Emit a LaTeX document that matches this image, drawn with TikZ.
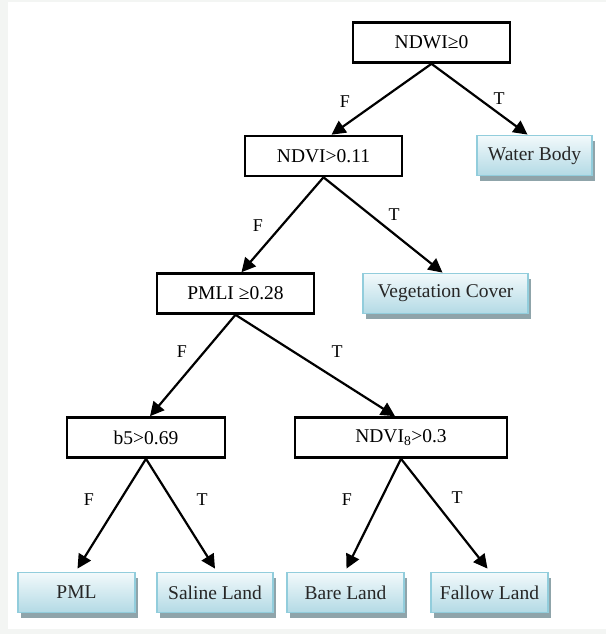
\documentclass[tikz,border=0pt]{standalone}
\usepackage{fontspec}
\setmainfont{Liberation Serif}
\usetikzlibrary{arrows.meta,calc,shadows}
\definecolor{bggray}{HTML}{F3F5F3}
\definecolor{leafborder}{HTML}{92CDDC}
\definecolor{leaftop}{HTML}{F2F9FB}
\definecolor{leafbot}{HTML}{B3DAE5}
\definecolor{leafshadow}{HTML}{8FA4AA}
\begin{document}
\begin{tikzpicture}[x=1pt,y=-1pt,
  cond/.style={draw=black, line width=2.6pt, fill=white, minimum height=40pt, inner sep=0pt, font=\fontsize{19.5}{22}\selectfont},
  leaf/.style={draw=leafborder, line width=1.8pt, top color=leaftop, bottom color=leafbot, minimum height=40pt, inner sep=0pt, font=\fontsize{19.5}{22}\selectfont, text=black!85, drop shadow={shadow xshift=3pt, shadow yshift=-5pt, fill=leafshadow, opacity=1}},
  edge/.style={line width=2.2pt, -{Triangle[length=14pt,width=14pt]}},
  lab/.style={font=\fontsize{18}{20}\selectfont, inner sep=0pt}
]
\fill[bggray] (0,0) rectangle (606,634);
\fill[white] (8,2) rectangle (606,629);
\useasboundingbox (0,0) rectangle (606,634);

\node[cond, minimum width=157pt] (ndwi) at (431.5,42.5) {NDWI≥0};
\node[cond, minimum width=157pt] (ndvi) at (323.5,156) {NDVI>0.11};
\node[leaf, minimum width=115pt] (water) at (534.5,155.5) {Water Body};
\node[cond, minimum width=157pt] (pmli) at (235.5,293.5) {PMLI ≥0.28};
\node[leaf, minimum width=165pt] (veg) at (445.5,293.5) {Vegetation Cover};
\node[cond, minimum width=158pt] (b5) at (146,437.5) {b5>0.69};
\node[cond, minimum width=212pt] (ndvie) at (401,437.5) {NDVI\textsubscript{8}>0.3};
\node[leaf, minimum width=117pt] (pml) at (76.5,592.5) {PML};
\node[leaf, minimum width=116pt] (saline) at (215,592.5) {Saline Land};
\node[leaf, minimum width=117pt] (bare) at (345.5,592.5) {Bare Land};
\node[leaf, minimum width=117pt] (fallow) at (489.5,592.5) {Fallow Land};

\draw[edge] (ndwi.south) -- ($(ndvi.north)+(8,0)$);
\draw[edge] (ndwi.south) -- ($(water.north)+(-7,0)$);
\draw[edge] (ndvi.south) -- ($(pmli.north)+(6,0)$);
\draw[edge] (ndvi.south) -- ($(veg.north)+(-3,0)$);
\draw[edge] (pmli.south) -- ($(b5.north)+(4,0)$);
\draw[edge] (pmli.south) -- ($(ndvie.north)+(-6,0)$);
\draw[edge] (b5.south) -- ($(pml.north)+(1,-3)$);
\draw[edge] (b5.south) -- ($(saline.north)+(0,-3)$);
\draw[edge] (ndvie.south) -- ($(bare.north)+(1,-3)$);
\draw[edge] (ndvie.south) -- ($(fallow.north)+(-2,-3)$);

\node[lab] (f1) at (345,102) {F};
\node[lab] (t1) at (499,99) {T};
\node[lab] (f2) at (258,226) {F};
\node[lab] (t2) at (394,215) {T};
\node[lab] (f3) at (182,352) {F};
\node[lab] (t3) at (337,352) {T};
\node[lab] (f4) at (89,500) {F};
\node[lab] (t4) at (202,500) {T};
\node[lab] (f5) at (347,500) {F};
\node[lab] (t5) at (457,498) {T};
\end{tikzpicture}
\end{document}
